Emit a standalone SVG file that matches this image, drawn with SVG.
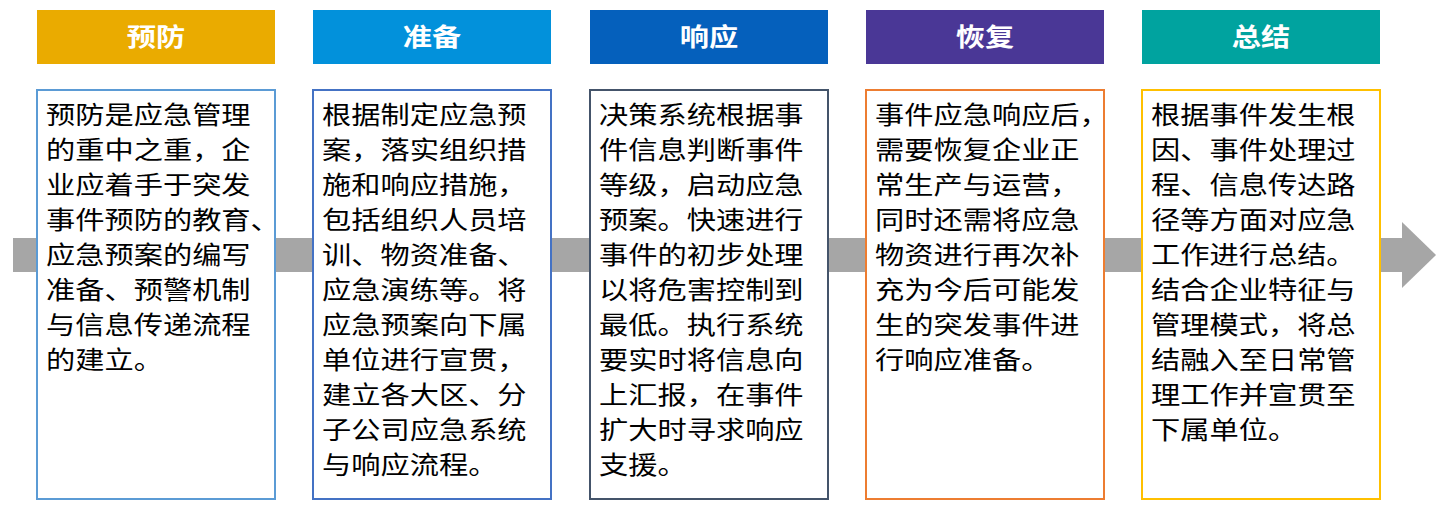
<svg xmlns="http://www.w3.org/2000/svg" width="1439" height="517" viewBox="0 0 1439 517">
<style>
.hd{font-family:"Noto Sans CJK SC","Noto Sans",sans-serif;font-size:25px;font-weight:bold;fill:#fff;text-anchor:middle}
.bd{font-family:"Noto Sans CJK SC","Noto Sans",sans-serif;font-size:25px;fill:#000}
.box{fill:#fff;stroke-width:2}
</style>
<rect width="1439" height="517" fill="#fff"/>
<g id="connectors">
<rect x="13" y="238" width="1390" height="34" fill="#A6A6A6"/>
<polygon points="1402,222 1436,255 1402,288" fill="#A6A6A6"/>
</g>
<g id="n1">
<rect x="37" y="10" width="238" height="54" fill="#EAAB00"/>
<g transform="translate(156 0) scale(1.17 1)"><text class="hd" x="0" y="46">预防</text></g>
<rect class="box" x="37" y="90" width="238" height="409" stroke="#5B9BD5"/>
<g transform="translate(46 0) scale(1.17 1)"><text class="bd" y="124"><tspan x="0">预防是应急管理</tspan><tspan x="0" dy="35">的重中之重，企</tspan><tspan x="0" dy="35">业应着手于突发</tspan><tspan x="0" dy="35">事件预防的教育、</tspan><tspan x="0" dy="35">应急预案的编写</tspan><tspan x="0" dy="35">准备、预警机制</tspan><tspan x="0" dy="35">与信息传递流程</tspan><tspan x="0" dy="35">的建立。</tspan></text></g>
</g>
<g id="n2">
<rect x="313" y="10" width="238" height="54" fill="#0291DB"/>
<g transform="translate(432 0) scale(1.17 1)"><text class="hd" x="0" y="46">准备</text></g>
<rect class="box" x="313" y="90" width="238" height="409" stroke="#4472C4"/>
<g transform="translate(322 0) scale(1.17 1)"><text class="bd" y="124"><tspan x="0">根据制定应急预</tspan><tspan x="0" dy="35">案，落实组织措</tspan><tspan x="0" dy="35">施和响应措施，</tspan><tspan x="0" dy="35">包括组织人员培</tspan><tspan x="0" dy="35">训、物资准备、</tspan><tspan x="0" dy="35">应急演练等。将</tspan><tspan x="0" dy="35">应急预案向下属</tspan><tspan x="0" dy="35">单位进行宣贯，</tspan><tspan x="0" dy="35">建立各大区、分</tspan><tspan x="0" dy="35">子公司应急系统</tspan><tspan x="0" dy="35">与响应流程。</tspan></text></g>
</g>
<g id="n3">
<rect x="590" y="10" width="238" height="54" fill="#0560BC"/>
<g transform="translate(709 0) scale(1.17 1)"><text class="hd" x="0" y="46">响应</text></g>
<rect class="box" x="590" y="90" width="238" height="409" stroke="#44546A"/>
<g transform="translate(599 0) scale(1.17 1)"><text class="bd" y="124"><tspan x="0">决策系统根据事</tspan><tspan x="0" dy="35">件信息判断事件</tspan><tspan x="0" dy="35">等级，启动应急</tspan><tspan x="0" dy="35">预案。快速进行</tspan><tspan x="0" dy="35">事件的初步处理</tspan><tspan x="0" dy="35">以将危害控制到</tspan><tspan x="0" dy="35">最低。执行系统</tspan><tspan x="0" dy="35">要实时将信息向</tspan><tspan x="0" dy="35">上汇报，在事件</tspan><tspan x="0" dy="35">扩大时寻求响应</tspan><tspan x="0" dy="35">支援。</tspan></text></g>
</g>
<g id="n4">
<rect x="866" y="10" width="238" height="54" fill="#4A3796"/>
<g transform="translate(985 0) scale(1.17 1)"><text class="hd" x="0" y="46">恢复</text></g>
<rect class="box" x="866" y="90" width="238" height="409" stroke="#ED7D31"/>
<g transform="translate(875 0) scale(1.17 1)"><text class="bd" y="124"><tspan x="0">事件应急响应后，</tspan><tspan x="0" dy="35">需要恢复企业正</tspan><tspan x="0" dy="35">常生产与运营，</tspan><tspan x="0" dy="35">同时还需将应急</tspan><tspan x="0" dy="35">物资进行再次补</tspan><tspan x="0" dy="35">充为今后可能发</tspan><tspan x="0" dy="35">生的突发事件进</tspan><tspan x="0" dy="35">行响应准备。</tspan></text></g>
</g>
<g id="n5">
<rect x="1142" y="10" width="238" height="54" fill="#00A39F"/>
<g transform="translate(1261 0) scale(1.17 1)"><text class="hd" x="0" y="46">总结</text></g>
<rect class="box" x="1142" y="90" width="238" height="409" stroke="#FFC000"/>
<g transform="translate(1151 0) scale(1.17 1)"><text class="bd" y="124"><tspan x="0">根据事件发生根</tspan><tspan x="0" dy="35">因、事件处理过</tspan><tspan x="0" dy="35">程、信息传达路</tspan><tspan x="0" dy="35">径等方面对应急</tspan><tspan x="0" dy="35">工作进行总结。</tspan><tspan x="0" dy="35">结合企业特征与</tspan><tspan x="0" dy="35">管理模式，将总</tspan><tspan x="0" dy="35">结融入至日常管</tspan><tspan x="0" dy="35">理工作并宣贯至</tspan><tspan x="0" dy="35">下属单位。</tspan></text></g>
</g>
</svg>
